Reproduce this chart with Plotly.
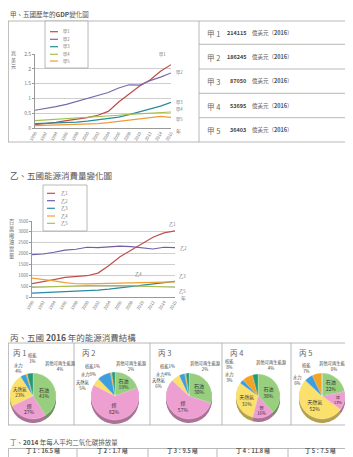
import plotly.graph_objects as go

# The page body adds an 8px margin; the figure is sized to fit the remaining window.
OX, OY = 8, 8
W, H = 345, 449
FONT = "Noto Sans CJK TC, Noto Sans, sans-serif"
GRAY = "#555555"
LINEC = "#a6a6a6"

# ---------------- data ----------------
years = [1990, 1992, 1994, 1996, 1998, 2000, 2002, 2004, 2006, 2008, 2010, 2012, 2014, 2016]
year_labels = [str(y) for y in years]

gdp_names = ["甲1", "甲2", "甲3", "甲4", "甲5"]
gdp_jia1 = [0.11, 0.14, 0.19, 0.25, 0.30, 0.35, 0.43, 0.56, 0.88, 1.15, 1.42, 1.62, 1.92, 2.14]
gdp_jia2 = [0.60, 0.65, 0.72, 0.80, 0.90, 1.00, 1.10, 1.20, 1.35, 1.46, 1.45, 1.60, 1.72, 1.86]
gdp_jia3 = [0.15, 0.16, 0.17, 0.19, 0.20, 0.23, 0.27, 0.31, 0.37, 0.45, 0.55, 0.63, 0.74, 0.87]
gdp_jia4 = [0.25, 0.27, 0.29, 0.31, 0.33, 0.35, 0.37, 0.40, 0.43, 0.46, 0.48, 0.51, 0.52, 0.54]
gdp_jia5 = [0.08, 0.09, 0.10, 0.11, 0.12, 0.13, 0.15, 0.18, 0.22, 0.27, 0.30, 0.36, 0.39, 0.36]
gdp_ticks = [0, 0.5, 1, 1.5, 2, 2.5]
gdp_tick_labels = ["0", "0.5", "1", "1.5", "2", "2.5"]
gdp_2016 = ["214115", "186245", "87050", "53695", "36403"]

energy_names = ["乙1", "乙2", "乙3", "乙4", "乙5"]
energy_yi1 = [620, 700, 800, 900, 930, 980, 1100, 1450, 1850, 2150, 2450, 2750, 2950, 3050]
energy_yi2 = [1950, 1980, 2060, 2160, 2200, 2290, 2270, 2320, 2340, 2320, 2250, 2210, 2290, 2270]
energy_yi3 = [180, 200, 220, 250, 270, 300, 320, 360, 420, 470, 530, 590, 660, 720]
energy_yi4 = [870, 820, 740, 660, 610, 600, 610, 620, 640, 650, 660, 670, 690, 700]
energy_yi5 = [440, 460, 480, 500, 510, 520, 520, 530, 530, 520, 500, 480, 460, 450]
energy_ticks = [0, 500, 1000, 1500, 2000, 2500, 3000, 3500]

pie_titles = ["丙 1", "丙 2", "丙 3", "丙 4", "丙 5"]
energy_types = ["石油", "煤", "天然氣", "水力", "核能", "其他可再生能源"]
bing1 = [41, 27, 23, 4, 1, 4]
bing2 = [19, 62, 5, 9, 1, 2]
bing3 = [30, 57, 6, 4, 1, 2]
bing4 = [38, 16, 31, 3, 8, 4]
bing5 = [22, 13, 52, 6, 7, 0]

co2_names = ["丁 1", "丁 2", "丁 3", "丁 4", "丁 5"]
co2_2014 = ["16.5", "1.7", "9.5", "11.8", "7.5"]

# ---------------- styles ----------------
gdp_colors = ["#bd4b48", "#7b68ad", "#2b8a9c", "#a4c04c", "#f29a3a"]
energy_colors = ["#c0504d", "#6e5fa6", "#2a8aa0", "#f0a030", "#a8c050"]
pie_colors = ["#97cf7f", "#ee9fd2", "#fbe06c", "#3f9fdc", "#f4a424", "#1f9a78"]


def darken(hx, f=0.72):
    r, g, b = int(hx[1:3], 16), int(hx[3:5], 16), int(hx[5:7], 16)
    return "#%02x%02x%02x" % (int(r * f), int(g * f), int(b * f))


def X(p):
    return (p - OX) / W


def Y(p):
    return 1 - (p - OY) / H


fig = go.Figure()
shapes = []
ann = []


def hline(x0, x1, y, color=LINEC, w=0.8):
    shapes.append(dict(type="line", xref="paper", yref="paper", x0=X(x0), x1=X(x1), y0=Y(y), y1=Y(y),
                       line=dict(color=color, width=w)))


def vline(x, y0, y1, color=LINEC, w=0.8):
    shapes.append(dict(type="line", xref="paper", yref="paper", x0=X(x), x1=X(x), y0=Y(y0), y1=Y(y1),
                       line=dict(color=color, width=w)))


def text(x, y, t, size=6, xanchor="left", yanchor="middle", color=GRAY, **kw):
    ann.append(dict(xref="paper", yref="paper", x=X(x), y=Y(y), text=t, showarrow=False,
                    xanchor=xanchor, yanchor=yanchor, font=dict(size=size, color=color, family=FONT), **kw))


# ---------------- chart 甲 ----------------
text(8, 14, "甲、五國歷年的<b>GDP</b>變化圖", size=6.5)
hline(5, 353, 21)
hline(5, 353, 142)
vline(8.4, 21, 142)
vline(199, 21, 142)
for yy in [44.3, 69, 93.3, 117.7]:
    hline(199, 353, yy)
row_y = [33, 57, 81.5, 106, 130]
for i in range(5):
    text(205, row_y[i], gdp_names[i][0] + " " + gdp_names[i][1], size=7.5, color="#666")
    text(248, row_y[i], "<b>" + gdp_2016[i] + "</b>", size=5.5, xanchor="right", color="#444")
    text(250, row_y[i], "億美元（<b>2016</b>）", size=5.5, color="#555")

gdp_series = [gdp_jia1, gdp_jia2, gdp_jia3, gdp_jia4, gdp_jia5]
for i, s in enumerate(gdp_series):
    fig.add_trace(go.Scatter(x=years, y=s, mode="lines", name=gdp_names[i], showlegend=False,
                             line=dict(color=gdp_colors[i], width=1.2), xaxis="x", yaxis="y",
                             hoverinfo="skip"))

# legend box 甲
shapes.append(dict(type="rect", xref="paper", yref="paper", x0=X(45), x1=X(88), y0=Y(68), y1=Y(21),
                   line=dict(color=LINEC, width=0.8), fillcolor="white", layer="above"))
leg1_y = [31.7, 39.3, 46.7, 54.3, 61]
for i in range(5):
    shapes.append(dict(type="line", xref="paper", yref="paper", x0=X(50), x1=X(58), y0=Y(leg1_y[i]),
                       y1=Y(leg1_y[i]), line=dict(color=gdp_colors[i], width=1.2), layer="above"))
    text(61, leg1_y[i], gdp_names[i], size=4.2, color="#777")

# end labels 甲
end_shift = [(-9, 10), (8, 0), (8, 0), (8, 3), (8, -2)]
for i, s in enumerate(gdp_series):
    ann.append(dict(xref="x", yref="y", x=years[-1], y=s[-1], text=gdp_names[i], showarrow=False,
                    xshift=end_shift[i][0], yshift=end_shift[i][1],
                    font=dict(size=4.2, color="#777", family=FONT)))
text(13, 60, "兆<br>美<br>元", size=5, xanchor="center", color="#666")
text(178, 131, "年", size=5, xanchor="center", color="#666")

# ---------------- chart 乙 ----------------
text(8, 175, "乙、五國能源消費量變化圖", size=8.5)
energy_series = [energy_yi1, energy_yi2, energy_yi3, energy_yi4, energy_yi5]
for i, s in enumerate(energy_series):
    fig.add_trace(go.Scatter(x=years, y=s, mode="lines", name=energy_names[i], showlegend=False,
                             line=dict(color=energy_colors[i], width=1.2), xaxis="x2", yaxis="y2",
                             hoverinfo="skip"))
shapes.append(dict(type="rect", xref="paper", yref="paper", x0=X(43), x1=X(87), y0=Y(231), y1=Y(185),
                   line=dict(color=LINEC, width=0.8), fillcolor="white", layer="above"))
leg2_y = [193.3, 200.7, 208.3, 216, 223.3]
for i in range(5):
    shapes.append(dict(type="line", xref="paper", yref="paper", x0=X(47), x1=X(55), y0=Y(leg2_y[i]),
                       y1=Y(leg2_y[i]), line=dict(color=energy_colors[i], width=1.2), layer="above"))
    text(59, leg2_y[i], energy_names[i], size=4.2, color="#777")
end2 = [(len(years) - 1, -3, 7), (len(years) - 1, 8, 0), (len(years) - 1, 7, 5),
        (10, -4, 9), (len(years) - 1, 7, -4)]
for i, s in enumerate(energy_series):
    k, dx, dy = end2[i]
    ann.append(dict(xref="x2", yref="y2", x=years[k], y=s[k], text=energy_names[i], showarrow=False,
                    xshift=dx, yshift=dy, font=dict(size=4.2, color="#777", family=FONT)))
text(11, 238, "百<br>萬<br>噸<br>油<br>當<br>量", size=5.2, xanchor="center", color="#666")
text(183, 298, "年", size=5, xanchor="center", color="#666")

# ---------------- chart 丙 (pies) ----------------
text(8, 337, "丙、五國 <b>2016</b> 年的能源消費結構", size=8.5)
hline(8, 353, 343)
hline(8, 353, 425)
vline(8.4, 343, 425)
for xx in [74, 150, 222, 291]:
    vline(xx, 343, 425)
box_left = [8, 74, 150, 222, 291]
for i in range(5):
    text(box_left[i] + (3 if i == 0 else 6), 352, pie_titles[i], size=7.5, color="#666")

pies = [bing1, bing2, bing3, bing4, bing5]
centers = [(33, 396), (115, 396), (189, 396), (258, 396), (322, 396)]
diam = [46, 48, 46, 44, 46]


def dom(cx, cy, d):
    return dict(x=[X(cx - d / 2), X(cx + d / 2)], y=[Y(cy + d / 2), Y(cy - d / 2)])


for i, vals in enumerate(pies):
    cx, cy = centers[i]
    d = diam[i]
    for off in [4, 3, 2, 1]:
        fig.add_trace(go.Pie(values=vals, labels=energy_types, sort=False, direction="clockwise",
                             rotation=0, domain=dom(cx, cy + off, d), textinfo="none", showlegend=False,
                             marker=dict(colors=[darken(c) for c in pie_colors], line=dict(width=0)),
                             hoverinfo="skip"))
    fig.add_trace(go.Pie(values=vals, labels=energy_types, sort=False, direction="clockwise",
                         rotation=0, domain=dom(cx, cy, d), showlegend=False,
                         texttemplate="%{label}<br>%{value}%",
                         textposition=["inside" if v >= 10 else "none" for v in vals],
                         insidetextorientation="horizontal",
                         textfont=dict(size=5, color="#333", family=FONT),
                         marker=dict(colors=pie_colors, line=dict(color="rgba(255,255,255,0.6)", width=0.4)),
                         hoverinfo="skip"))

# small-slice labels (positions per pie), text from data
small_pos = [
    {3: (18, 368, True), 4: (32, 358, True), 5: (60, 366, True)},
    {2: (83, 385, True), 3: (88, 374, False), 4: (92, 366, False), 5: (131, 366, True)},
    {2: (159, 383, True), 3: (163, 374, False), 4: (167, 366, False), 5: (205, 366, True)},
    {3: (229, 377, True), 4: (229, 364, True), 5: (271, 365, True)},
    {3: (297, 380, True), 4: (306, 368, True), 5: (334, 366, True)},
]
for i, vals in enumerate(pies):
    for k, pos in small_pos[i].items():
        if vals[k] >= 10:
            continue
        x, y, two = pos
        sep = "<br>" if two else ""
        text(x, y, energy_types[k] + sep + str(vals[k]) + "%", size=4.3, xanchor="center", color="#444")

# ---------------- 丁 ----------------
text(8, 442, "丁、<b>2014</b> 年每人平均二氧化碳排放量", size=6.5)
hline(8.4, 353, 448.5)
cell_x = [8.4, 77, 148, 217, 288]
for xx in cell_x:
    vline(xx, 448.5, 458)
for i in range(5):
    cx = cell_x[i] + ((cell_x[i + 1] if i < 4 else 353) - cell_x[i]) / 2
    text(cx, 456.8, "<b>" + co2_names[i] + "：" + co2_2014[i] + " 噸</b>", size=5.5, xanchor="center",
         yanchor="bottom", color="#555")

axis_common = dict(showgrid=False, zeroline=False, automargin=False, fixedrange=True)
fig.update_layout(
    width=W, height=H, margin=dict(l=0, r=0, t=0, b=0), template="none",
    paper_bgcolor="white", plot_bgcolor="rgba(0,0,0,0)", font=dict(family=FONT, color=GRAY),
    showlegend=False,
    xaxis=dict(domain=[X(35), X(171)], range=[1990, 2016], anchor="y", tickvals=years,
               ticktext=year_labels, tickangle=-60, tickfont=dict(size=4.3, color="#777"),
               showline=True, linecolor="#999", linewidth=0.8, ticks="", **axis_common),
    yaxis=dict(domain=[Y(128), Y(54)], range=[0, 2.5], anchor="x", tickvals=gdp_ticks,
               ticktext=gdp_tick_labels, tickfont=dict(size=5, color="#777"), showgrid=True,
               gridcolor="#cfcfcf", gridwidth=0.8, showline=True, linecolor="#999", linewidth=0.8,
               ticks="outside", ticklen=2, tickcolor="#999", zeroline=False, automargin=False,
               fixedrange=True),
    xaxis2=dict(domain=[X(32), X(175)], range=[1990, 2016], anchor="y2", tickvals=years,
                ticktext=year_labels, tickangle=-60, tickfont=dict(size=4.3, color="#777"),
                showline=True, linecolor="#999", linewidth=0.8, ticks="", **axis_common),
    yaxis2=dict(domain=[Y(297), Y(221)], range=[0, 3500], anchor="x2", tickvals=energy_ticks,
                tickfont=dict(size=4.5, color="#777"), showgrid=True, gridcolor="#cfcfcf",
                gridwidth=0.8, showline=True, linecolor="#999", linewidth=0.8, ticks="outside",
                ticklen=2, tickcolor="#999", zeroline=False, automargin=False, fixedrange=True),
    shapes=shapes, annotations=ann,
)

fig.write_html("out.html")
